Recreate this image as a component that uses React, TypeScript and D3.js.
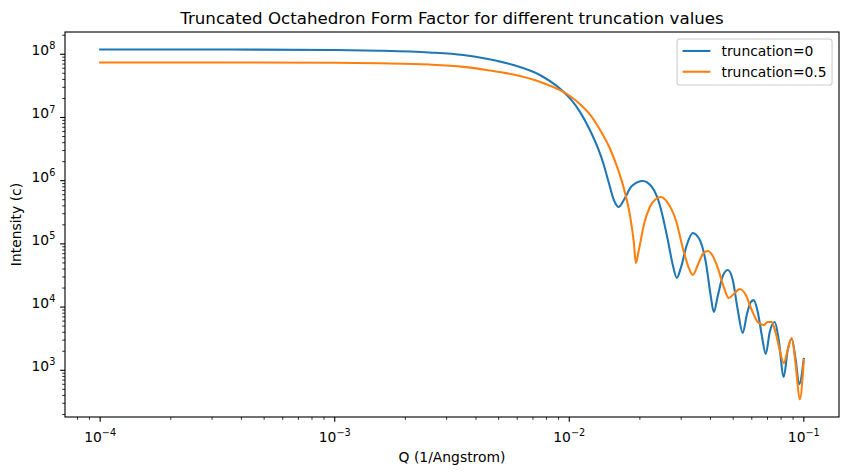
import {useEffect, useRef} from "react";
import * as d3 from "d3";

// series (Q in 1/Angstrom, intensity in c)
const seriesNames = ["truncation=0", "truncation=0.5"];
const seriesColors = ["#1f77b4", "#ff7f0e"];

const qTrunc0 = [
    0.0001, 0.0003, 0.001, 0.00156, 0.00253, 0.00353, 0.0045, 0.00577, 0.00749, 0.00927, 0.01016,
    0.01109, 0.01224, 0.01324, 0.01404, 0.01475, 0.01549, 0.01627, 0.01709, 0.01848,
    0.02059, 0.02249, 0.02432, 0.02631, 0.02763, 0.02874, 0.02989, 0.03170, 0.03362, 0.03602,
    0.03819, 0.04011, 0.04131, 0.04297, 0.04512, 0.04739, 0.04978, 0.05229, 0.05492, 0.05711,
    0.05940, 0.06118, 0.06362, 0.06616, 0.06882, 0.07157, 0.07516, 0.07817, 0.08210, 0.08538,
    0.08880, 0.09236, 0.0955, 0.1
];
const iTrunc0 = [
    1.19e8, 1.19e8, 1.17e8, 1.14e8, 1.07e8, 9.75e7, 8.43e7, 6.77e7, 4.70e7, 2.72e7, 1.93e7,
    1.24e7, 6.34e6, 3.29e6, 1.77e6, 9.19e5, 4.95e5, 3.84e5, 4.95e5, 8.24e5,
    9.89e5, 7.95e5, 4.13e5, 1.15e5, 4.63e4, 2.89e4, 4.16e4, 9.61e4, 1.49e5, 1.15e5,
    5.17e4, 1.50e4, 8.36e3, 1.50e4, 3.10e4, 3.86e4, 2.68e4, 9.00e3, 3.89e3, 7.50e3,
    1.20e4, 1.29e4, 8.36e3, 3.62e3, 1.81e3, 4.04e3, 5.81e3, 3.02e3, 783, 2.10e3,
    3.13e3, 1.46e3, 600, 1.51e3
];

const qTrunc05 = [
    0.0001, 0.0003, 0.001, 0.00156, 0.00253, 0.00353, 0.0045, 0.00577, 0.00749, 0.00927, 0.01016,
    0.01109, 0.01224, 0.01350, 0.01489, 0.01611, 0.01725, 0.01812, 0.01885, 0.01922, 0.01980,
    0.02079, 0.02205, 0.02339, 0.02457, 0.02631, 0.02846, 0.03048, 0.03233, 0.03362, 0.03531,
    0.03709, 0.03896, 0.04091, 0.04297, 0.04556, 0.04786, 0.05027, 0.05332, 0.05656, 0.05998,
    0.06362, 0.06748, 0.07018, 0.07300, 0.07591, 0.07893, 0.08210, 0.08538, 0.08880, 0.09236,
    0.09607, 0.1
];
const iTrunc05 = [
    7.41e7, 7.41e7, 7.36e7, 7.20e7, 6.87e7, 6.32e7, 5.60e7, 4.77e7, 3.67e7, 2.63e7, 2.13e7,
    1.64e7, 1.12e7, 6.46e6, 3.26e6, 1.53e6, 6.63e5, 2.92e5, 1.05e5, 4.99e4, 8.00e4,
    1.99e5, 3.84e5, 5.13e5, 5.52e5, 4.44e5, 2.39e5, 8.61e4, 4.16e4, 3.22e4, 4.63e4,
    6.92e4, 7.72e4, 6.43e4, 4.16e4, 2.08e4, 1.39e4, 1.61e4, 1.93e4, 1.55e4, 9.00e3,
    5.81e3, 5.21e3, 5.81e3, 5.81e3, 3.89e3, 2.10e3, 1.30e3, 2.10e3, 3.24e3, 1.21e3,
    345, 1.46e3
];

const xTickExponents = [-4, -3, -2, -1];
const yTickExponents = [3, 4, 5, 6, 7, 8];

const titleText = "Truncated Octahedron Form Factor for different truncation values";
const xLabelText = "Q (1/Angstrom)";
const yLabelText = "Intensity (c)";

export default function App() {

    const chartRef = useRef<SVGSVGElement>(null);

    useEffect(() => {
        const width = 849;
        const height = 475;
        const marginTop = 32;
        const marginRight = 10;
        const marginBottom = 58;
        const marginLeft = 65;
        const font = "DejaVu Sans, sans-serif";

        if (!chartRef.current) return;

        const svg = d3.select(chartRef.current);
        svg.selectAll("*").remove();
        svg.attr("width", width).attr("height", height).attr("viewBox", [0, 0, width, height]);

        svg.append("rect").attr("width", width).attr("height", height).attr("fill", "white");

        const series = [
            {q: qTrunc0, i: iTrunc0},
            {q: qTrunc05, i: iTrunc05},
        ];

        // matplotlib style autoscale: 5% margins in log space
        const allQ = series.flatMap(s => s.q);
        const allI = series.flatMap(s => s.i);
        const lx0 = Math.log10(d3.min(allQ)!), lx1 = Math.log10(d3.max(allQ)!);
        const ly0 = Math.log10(d3.min(allI)!), ly1 = Math.log10(d3.max(allI)!);
        const mx = (lx1 - lx0) * 0.05, my = (ly1 - ly0) * 0.05;

        const xScale = d3.scaleLog()
            .domain([10 ** (lx0 - mx), 10 ** (lx1 + mx)])
            .range([marginLeft, width - marginRight]);

        const yScale = d3.scaleLog()
            .domain([10 ** (ly0 - my), 10 ** (ly1 + my)])
            .range([height - marginBottom, marginTop]);

        const x0 = marginLeft, x1 = width - marginRight;
        const y0 = height - marginBottom, y1 = marginTop;

        // lines
        const line = d3.line<[number, number]>()
            .x(d => xScale(d[0]))
            .y(d => yScale(d[1]))
            .curve(d3.curveMonotoneX);

        series.forEach((s, k) => {
            const pts = s.q.map((q, j) => [q, s.i[j]] as [number, number]);
            svg.append("path")
                .attr("d", line(pts))
                .attr("fill", "none")
                .attr("stroke", seriesColors[k])
                .attr("stroke-width", 2.08)
                .attr("stroke-linejoin", "round")
                .attr("stroke-linecap", "square");
        });

        // minor ticks
        const [dx0, dx1] = xScale.domain();
        const [dy0, dy1] = yScale.domain();
        const minorX: number[] = [];
        const minorY: number[] = [];
        for (let e = -6; e <= 10; e++) {
            for (let m = 2; m <= 9; m++) {
                const v = m * 10 ** e;
                if (v >= dx0 && v <= dx1) minorX.push(v);
                if (v >= dy0 && v <= dy1) minorY.push(v);
            }
        }

        const axes = svg.append("g").attr("stroke", "black");
        minorX.forEach(v => {
            axes.append("line").attr("x1", xScale(v)).attr("x2", xScale(v))
                .attr("y1", y0).attr("y2", y0 + 2.78).attr("stroke-width", 0.83);
        });
        minorY.forEach(v => {
            axes.append("line").attr("y1", yScale(v)).attr("y2", yScale(v))
                .attr("x1", x0).attr("x2", x0 - 2.78).attr("stroke-width", 0.83);
        });
        xTickExponents.forEach(e => {
            const px = xScale(10 ** e);
            axes.append("line").attr("x1", px).attr("x2", px)
                .attr("y1", y0).attr("y2", y0 + 4.86).attr("stroke-width", 1.11);
        });
        yTickExponents.forEach(e => {
            const py = yScale(10 ** e);
            axes.append("line").attr("y1", py).attr("y2", py)
                .attr("x1", x0).attr("x2", x0 - 4.86).attr("stroke-width", 1.11);
        });

        // spines
        svg.append("rect")
            .attr("x", x0).attr("y", y1)
            .attr("width", x1 - x0).attr("height", y0 - y1)
            .attr("fill", "none").attr("stroke", "black").attr("stroke-width", 1.11);

        // tick labels
        xTickExponents.forEach(e => {
            const t = svg.append("text")
                .attr("x", xScale(10 ** e)).attr("y", y0 + 24.5)
                .attr("text-anchor", "middle")
                .attr("font-family", font).attr("font-size", 13.89);
            t.append("tspan").text("10");
            t.append("tspan").attr("dy", -5.8).attr("font-size", 9.7).text("\u2212" + Math.abs(e));
        });
        yTickExponents.forEach(e => {
            const t = svg.append("text")
                .attr("x", x0 - 9.7).attr("y", yScale(10 ** e) + 1)
                .attr("text-anchor", "end")
                .attr("font-family", font).attr("font-size", 13.89);
            t.append("tspan").text("10");
            t.append("tspan").attr("dy", -5.8).attr("font-size", 9.7).text(String(e));
        });

        // title & labels
        svg.append("text")
            .attr("x", (x0 + x1) / 2).attr("y", 23.7)
            .attr("text-anchor", "middle")
            .attr("font-family", font).attr("font-size", 16.67)
            .text(titleText);

        svg.append("text")
            .attr("x", (x0 + x1) / 2).attr("y", 462)
            .attr("text-anchor", "middle")
            .attr("font-family", font).attr("font-size", 13.89)
            .text(xLabelText);

        svg.append("text")
            .attr("transform", `translate(20.5,${(y0 + y1) / 2}) rotate(-90)`)
            .attr("text-anchor", "middle")
            .attr("font-family", font).attr("font-size", 13.89)
            .text(yLabelText);

        // legend
        const legW = 155, legH = 46;
        const legX = x1 - 6.94 - legW, legY = y1 + 6.94;
        const legend = svg.append("g");
        legend.append("rect")
            .attr("x", legX).attr("y", legY)
            .attr("width", legW).attr("height", legH)
            .attr("rx", 2.8)
            .attr("fill", "white").attr("fill-opacity", 0.8)
            .attr("stroke", "#cccccc").attr("stroke-width", 1.11);
        seriesNames.forEach((name, k) => {
            const cy = legY + 12 + k * 20.8;
            legend.append("line")
                .attr("x1", legX + 5.5).attr("x2", legX + 33.3)
                .attr("y1", cy).attr("y2", cy)
                .attr("stroke", seriesColors[k]).attr("stroke-width", 2.08);
            legend.append("text")
                .attr("x", legX + 44.4).attr("y", cy + 5)
                .attr("font-family", font).attr("font-size", 13.89)
                .text(name);
        });

    }, []);

    return (
        <svg ref={chartRef} style={{position: "absolute", left: 0, top: 0, display: "block"}}/>
    );
}
